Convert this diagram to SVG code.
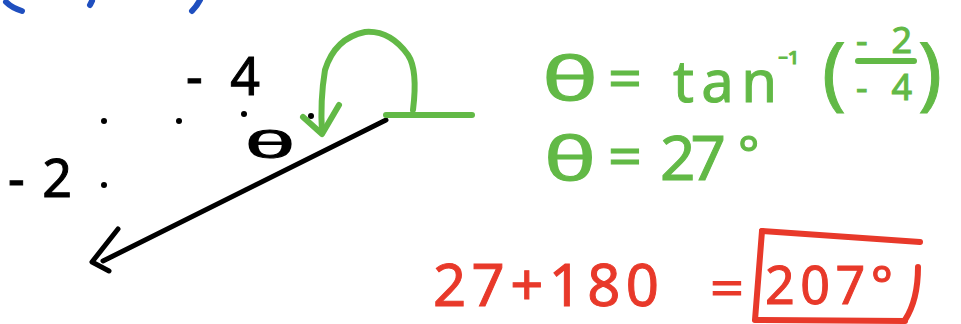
<svg xmlns="http://www.w3.org/2000/svg" width="961" height="324" viewBox="0 0 961 324">
<style>
.k{fill:none;stroke:#000;stroke-width:5;stroke-linecap:round;stroke-linejoin:round}
.g{fill:none;stroke:#62b946;stroke-width:6;stroke-linecap:round;stroke-linejoin:round}
.r{fill:none;stroke:#e8392a;stroke-width:6;stroke-linecap:round;stroke-linejoin:round}
.b{fill:none;stroke:#1f4fbf;stroke-width:6;stroke-linecap:round}
.t{font-family:"Noto Sans","DejaVu Sans",sans-serif}
.tk{fill:#000;stroke:#000;stroke-width:1}
.tg{fill:#62b946;stroke:#62b946;stroke-width:1}
.tr{fill:#e8392a;stroke:#e8392a;stroke-width:1}
</style>
<rect width="961" height="324" fill="#fff"/>
<g id="blue-top">
<path class="b" d="M6,2 Q12,8 22,11"/>
<path class="b" d="M92,1 L90,5"/>
<path class="b" d="M200,0 Q197,6 192,11"/>
</g>
<g id="dots" fill="#000">
<circle cx="104" cy="121" r="3"/>
<circle cx="179" cy="121" r="3"/>
<circle cx="244" cy="114" r="3"/>
<circle cx="311" cy="116" r="3"/>
<circle cx="104" cy="185" r="3"/>
</g>
<g id="labels-black">
<text class="t tk" x="186" y="95" font-size="52" textLength="74" lengthAdjust="spacing">-4</text>
<text class="t tk" x="8" y="197" font-size="52" textLength="64" lengthAdjust="spacing">-2</text>
<text class="t tk" x="245" y="158" font-size="36" textLength="50" lengthAdjust="spacingAndGlyphs">θ</text>
</g>
<g id="connectors">
<path class="k" d="M386,120 L103,261"/>
<path class="k" d="M118,229 L92,262 L109,271"/>
<path class="g" d="M386,115 L472,115"/>
<path class="g" d="M413,110 Q418,70 408,55 Q390,30 365,32 Q335,38 325,70 Q320,100 322,133"/>
<path class="g" d="M303,117 L322,134 L339,105"/>
</g>
<g id="green-eq">
<text class="t tg" x="542" y="100" font-size="60" textLength="56" lengthAdjust="spacingAndGlyphs">θ</text>
<text class="t tg" x="608" y="98" font-size="56" textLength="34" lengthAdjust="spacingAndGlyphs">=</text>
<text class="t tg" x="673" y="102" font-size="58" textLength="104" lengthAdjust="spacing">tan</text>
<text class="t tg" x="778" y="76" font-size="30">⁻¹</text>
<text class="t tg" x="822" y="100" font-size="80">(</text>
<text class="t tg" x="856" y="53" font-size="36" textLength="56" lengthAdjust="spacing">-2</text>
<path class="g" d="M858,61 L914,61"/>
<text class="t tg" x="856" y="100" font-size="36" textLength="56" lengthAdjust="spacing">-4</text>
<text class="t tg" x="918" y="100" font-size="80">)</text>
<text class="t tg" x="544" y="180" font-size="60" textLength="52" lengthAdjust="spacingAndGlyphs">θ</text>
<text class="t tg" x="608" y="176" font-size="56" textLength="34" lengthAdjust="spacingAndGlyphs">=</text>
<text class="t tg" x="660" y="180" font-size="62" textLength="66" lengthAdjust="spacing">27</text>
<text class="t tg" x="738" y="172" font-size="50">°</text>
</g>
<g id="red-eq">
<text class="t tr" x="433" y="306" font-size="58" textLength="226" lengthAdjust="spacing">27+180</text>
<text class="t tr" x="710" y="306" font-size="50" textLength="34" lengthAdjust="spacingAndGlyphs">=</text>
<text class="t tr" x="765" y="304" font-size="52" textLength="128" lengthAdjust="spacing">207°</text>
<path class="r" d="M762,231 L920,242"/>
<path class="r" d="M762,231 L755,320 L905,321"/>
<path class="r" d="M918,267 Q918,300 905,320"/>
</g>
</svg>
